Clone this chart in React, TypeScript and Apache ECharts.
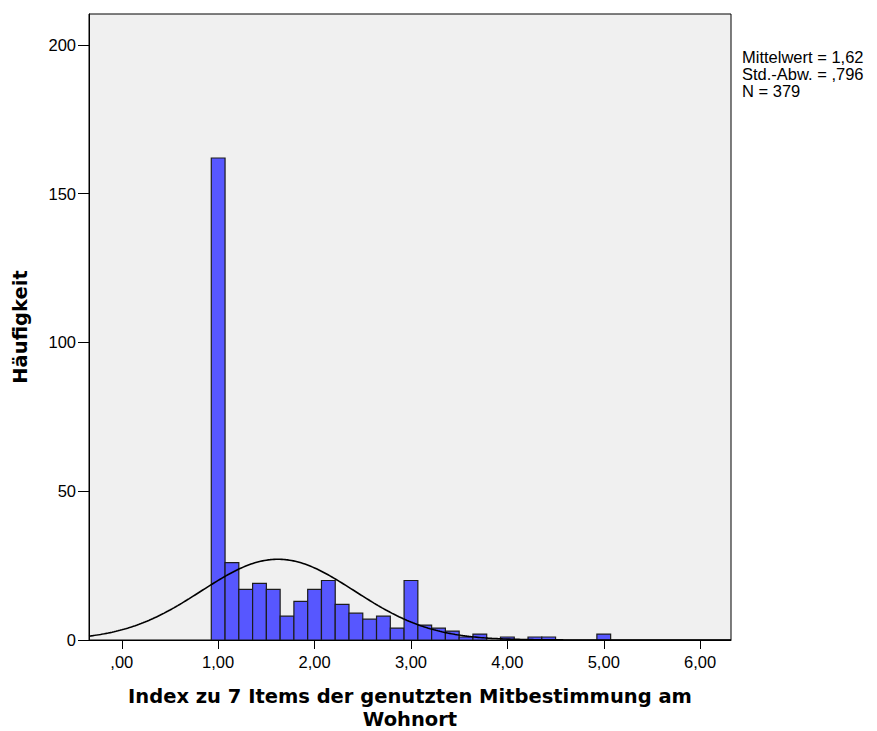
import React, { useEffect, useRef } from "react";
import * as echarts from "echarts";

const binCenters = [
  1.0, 1.1429, 1.2857, 1.4286, 1.5714, 1.7143, 1.8571, 2.0, 2.1429, 2.2857,
  2.4286, 2.5714, 2.7143, 2.8571, 3.0, 3.1429, 3.2857, 3.4286, 3.5714, 3.7143,
  3.8571, 4.0, 4.1429, 4.2857, 4.4286, 4.5714, 4.7143, 4.8571, 5.0,
];
const binCounts = [
  162, 26, 17, 19, 17, 8, 13, 17, 20, 12, 9, 7, 8, 4, 20, 5, 4, 3, 1, 2, 0, 1,
  0, 1, 1, 0, 0, 0, 2,
];
const binWidth = 1 / 7;
const meanValue = 1.62;
const sdValue = 0.796;
const nValue = 379;
const xTicks = [0, 1, 2, 3, 4, 5, 6];
const yTicks = [0, 50, 100, 150, 200];
const statLines = ["Mittelwert = 1,62", "Std.-Abw. = ,796", "N = 379"];
const xTitle = "Index zu 7 Items der genutzten Mitbestimmung am\nWohnort";
const yTitle = "Häufigkeit";

const X_MIN = -0.34;
const X_MAX = 6.32;
const Y_MAX = 210.4;

function normalCurve(): number[][] {
  const pts: number[][] = [];
  const scale = nValue * binWidth;
  for (let x = X_MIN; x <= X_MAX + 1e-9; x += 0.02) {
    const z = (x - meanValue) / sdValue;
    const y = (scale / (sdValue * Math.sqrt(2 * Math.PI))) * Math.exp(-0.5 * z * z);
    pts.push([x, y]);
  }
  return pts;
}

export default function App() {
  const ref = useRef<HTMLDivElement>(null);
  useEffect(() => {
    if (!ref.current) return;
    const chart = echarts.init(ref.current, undefined, { renderer: "svg" });
    const barData = binCenters.map((c, i) => [c, binCounts[i]]);
    const fontFam = "'Liberation Sans', Arial, sans-serif";
    chart.setOption({
      animation: false,
      backgroundColor: "#ffffff",
      grid: {
        left: 89,
        top: 14,
        width: 642,
        height: 626,
        show: true,
        backgroundColor: "#F0F0F0",
        borderColor: "#000000",
        borderWidth: 1,
      },
      xAxis: {
        type: "value",
        min: X_MIN,
        max: X_MAX,
        axisLine: { show: true, onZero: false, lineStyle: { color: "#000", width: 1 } },
        axisTick: {
          show: true,
          length: 9,
          customValues: xTicks,
          lineStyle: { color: "#000", width: 1 },
        },
        axisLabel: {
          customValues: xTicks,
          margin: 13,
          fontSize: 16.5,
          color: "#000",
          fontFamily: fontFam,
          formatter: (v: number) =>
            v === 0 ? ",00" : v.toFixed(2).replace(".", ","),
        },
        splitLine: { show: false },
      },
      yAxis: {
        type: "value",
        min: 0,
        max: Y_MAX,
        axisLine: { show: true, onZero: false, lineStyle: { color: "#000", width: 1 } },
        axisTick: {
          show: true,
          length: 11,
          customValues: yTicks,
          lineStyle: { color: "#000", width: 1 },
        },
        axisLabel: {
          customValues: yTicks,
          margin: 13,
          fontSize: 16.5,
          color: "#000",
          fontFamily: fontFam,
        },
        splitLine: { show: false },
      },
      graphic: [
        {
          type: "text",
          x: 20,
          y: 327,
          rotation: Math.PI / 2,
          style: {
            text: yTitle,
            font: "bold 19.5px 'DejaVu Sans', sans-serif",
            fill: "#000",
            align: "center",
            verticalAlign: "middle",
          },
        },
        {
          type: "text",
          x: 410,
          y: 708,
          style: {
            text: xTitle,
            font: "bold 19.5px 'DejaVu Sans', sans-serif",
            fill: "#000",
            align: "center",
            verticalAlign: "middle",
            lineHeight: 23,
          },
        },
        {
          type: "text",
          x: 742,
          y: 48,
          style: {
            text: statLines.join("\n"),
            font: "16.5px 'Liberation Sans', Arial, sans-serif",
            fill: "#000",
            align: "left",
            verticalAlign: "top",
            lineHeight: 17,
          },
        },
      ],
      series: [
        {
          type: "custom",
          data: barData,
          clip: true,
          renderItem: (params: any, api: any) => {
            const c = api.value(0);
            const v = api.value(1);
            if (!v) return null;
            const p0 = api.coord([c - binWidth / 2, v]);
            const p1 = api.coord([c + binWidth / 2, 0]);
            return {
              type: "rect",
              shape: { x: p0[0], y: p0[1], width: p1[0] - p0[0], height: p1[1] - p0[1] },
              style: { fill: "#5757FF", stroke: "#1c1c1c", lineWidth: 1.2 },
            };
          },
          z: 2,
        },
        {
          type: "line",
          data: normalCurve(),
          showSymbol: false,
          symbol: "none",
          smooth: false,
          clip: true,
          lineStyle: { color: "#000", width: 1.6 },
          z: 3,
        },
      ],
    });
    return () => chart.dispose();
  }, []);
  return (
    <div
      ref={ref}
      style={{ position: "fixed", left: 0, top: 0, width: 877, height: 731 }}
    />
  );
}
